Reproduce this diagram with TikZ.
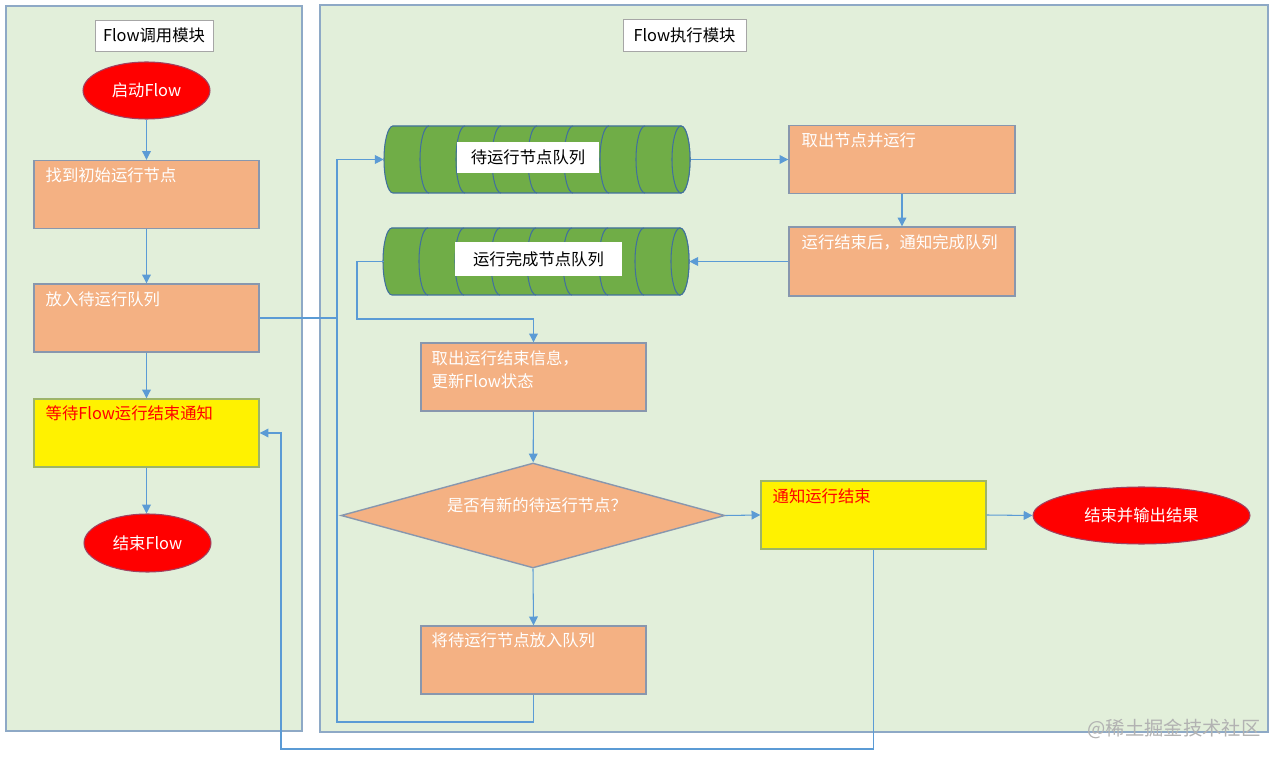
\documentclass[tikz,border=0pt]{standalone}
\usepackage{fontspec}
\setmainfont{Noto Sans CJK SC}
\usepackage{xcolor}
\usetikzlibrary{arrows.meta,shapes.geometric}

\definecolor{panelgreen}{HTML}{E2EFDA}
\definecolor{panelline}{HTML}{8EA9C6}
\definecolor{boxorange}{HTML}{F4B183}
\definecolor{boxline}{HTML}{8897AE}
\definecolor{yellowline}{HTML}{9DB46A}
\definecolor{ovalline}{HTML}{A04060}
\definecolor{cylgreen}{HTML}{70AD47}
\definecolor{cylline}{HTML}{41719C}
\definecolor{linkblue}{HTML}{5B9BD5}
\definecolor{titleline}{HTML}{A6A6A6}

\newcommand{\boxfont}{\fontsize{9.3pt}{11pt}\selectfont}

\tikzset{
  panel/.style={draw=panelline, fill=panelgreen, line width=1pt},
  title/.style={draw=titleline, fill=white, text=black, inner sep=0pt, font=\boxfont},
  box/.style={draw=boxline, fill=boxorange, line width=0.8pt, minimum width=4.5cm,
    minimum height=1.36cm, inner sep=0pt},
  yellowbox/.style={box, fill=yellow, draw=yellowline},
  boxtext/.style={anchor=west, text=white, inner sep=0pt, font=\boxfont, align=left},
  oval/.style={ellipse, draw=ovalline, fill=red, text=white, inner sep=0pt,
    line width=0.6pt, font=\boxfont},
  decision/.style={diamond, draw=boxline, fill=boxorange, line width=0.8pt,
    minimum width=7.68cm, minimum height=2.1cm, inner sep=0pt},
  cyl/.style={draw=cylline, fill=cylgreen, line width=0.6pt},
  qlabel/.style={fill=white, text=black, inner sep=0pt, font=\boxfont},
  link/.style={draw=linkblue, line width=0.6pt},
  flow/.style={link, -{Triangle[length=5pt,width=5pt]}}
}

\begin{document}
\begin{tikzpicture}[x=0.02cm,y=-0.02cm]
\useasboundingbox[fill=white] (0,0) rectangle (1276,760);

% Panels
\draw[panel] (6,6) rectangle (302,731);
\draw[panel] (320,5) rectangle (1268,732);
\node[title, minimum width=2.36cm, minimum height=0.62cm] (calltitle) at (154,35.5) {Flow调用模块};
\node[title, minimum width=2.46cm, minimum height=0.64cm] (runtitle) at (684.5,35) {Flow执行模块};

% Flow call module
\node[oval, minimum width=2.54cm, minimum height=1.14cm] (start) at (146.5,90.5) {启动Flow};
\node[box] (find) at (146.5,194.5) {};
\node[boxtext] at ([shift={(12,16)}]find.north west) {找到初始运行节点};
\node[box] (put) at (146.5,318) {};
\node[boxtext] at ([shift={(12,16)}]put.north west) {放入待运行队列};
\node[yellowbox] (wait) at (146.5,433) {};
\node[boxtext, text=red] at ([shift={(12,15)}]wait.north west) {等待Flow运行结束通知};
\node[oval, minimum width=2.54cm, minimum height=1.16cm] (endflow) at (147.5,543) {结束Flow};

% Queue cylinders
\foreach \qx/\qy in {393/159.5, 392/261.5} {
  \draw[cyl] (\qx,\qy-33.5) -- (\qx+288,\qy-33.5)
    arc[start angle=90, end angle=-90, x radius=0.18cm, y radius=0.67cm]
    -- (\qx,\qy+33.5)
    arc[start angle=270, end angle=90, x radius=0.18cm, y radius=0.67cm] -- cycle;
  \foreach \k in {1,...,7}
    \draw[cyl, fill=none] (\qx+36*\k,\qy-33.5)
      arc[start angle=90, end angle=270, x radius=0.18cm, y radius=0.67cm];
  \draw[cyl] (\qx+288,\qy) ellipse [x radius=0.18cm, y radius=0.67cm];
}
\node[minimum width=6.14cm, minimum height=1.34cm, inner sep=0pt] (q1) at (537.5,159.5) {};
\node[minimum width=6.1cm, minimum height=1.34cm, inner sep=0pt] (q2) at (536.5,261.5) {};
\node[qlabel, minimum width=2.84cm, minimum height=0.62cm] (q1label) at (528,157.5) {待运行节点队列};
\node[qlabel, minimum width=3.34cm, minimum height=0.68cm] (q2label) at (538.5,259) {运行完成节点队列};

% Flow run module
\node[box, minimum width=4.52cm] (take) at (902,159.5) {};
\node[boxtext] at ([shift={(13,16)}]take.north west) {取出节点并运行};
\node[box, minimum width=4.52cm, minimum height=1.38cm] (done) at (902,261.5) {};
\node[boxtext] at ([shift={(13,16)}]done.north west) {运行结束后，通知完成队列};
\node[box] (fetch) at (533.5,377) {};
\node[boxtext] at ([shift={(11,27)}]fetch.north west) {取出运行结束信息，\\[2pt]更新Flow状态};
\node[decision] (check) at (533,515.5) {};
\node[boxtext, anchor=center] at (537,505) {是否有新的待运行节点？};
\node[box] (push) at (533.5,660) {};
\node[boxtext] at ([shift={(11,15)}]push.north west) {将待运行节点放入队列};
\node[yellowbox] (notify) at (873.5,515) {};
\node[boxtext, text=red] at ([shift={(12,16)}]notify.north west) {通知运行结束};
\node[oval, minimum width=4.34cm, minimum height=1.14cm] (final) at (1141.5,515.5) {结束并输出结果};

% Connectors
\coordinate (j1) at (337,722);
\coordinate (j2) at (357,319);
\coordinate (j3) at (281,749);
\draw[flow] (start) -- (find);
\draw[flow] (find) -- (put);
\draw[flow] (put) -- (wait);
\draw[flow] (wait.south) -- (wait.south |- endflow.north);
\draw[flow] (put.east) -- (put.east -| j1) |- (q1.west);
\draw[link] (push.south) |- (j1) -- (put.east -| j1);
\draw[flow] (q1.east) -- (take.west);
\draw[flow] (take) -- (done);
\draw[flow] (done.west) -- (q2.east);
\draw[flow] (q2.west) -| (j2) -| (fetch.north);
\draw[flow] (fetch) -- (check);
\draw[flow] (check.east) -- (notify.west);
\draw[flow] (notify.east) -- (final.west);
\draw[flow] (check.south) -- (push.north);
\draw[flow] (notify.south) |- (j3) |- (wait.east);

\node[text=gray!60, font=\fontsize{11pt}{13pt}\selectfont] (mark) at (1174,729) {@稀土掘金技术社区};
\end{tikzpicture}
\end{document}
